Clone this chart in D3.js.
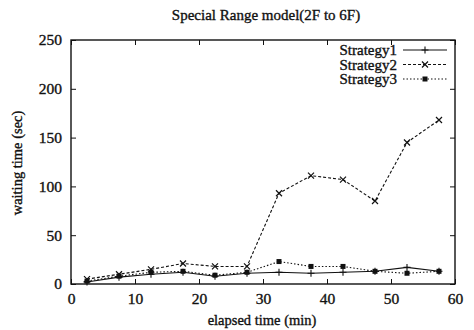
<!DOCTYPE html>
<html>
<head>
<meta charset="utf-8">
<script src="https://cdn.jsdelivr.net/npm/d3@7"></script>
<style>
  body { margin: 0; background: #fff; }
  text { font-family: "Liberation Serif", "DejaVu Serif", serif; fill: #111; stroke: #111; stroke-width: 0.35px; }
</style>
</head>
<body>
<svg id="chart" width="474" height="330"></svg>
<script>
// elapsed time (min) of each sample
const times = [2.5, 7.5, 12.5, 17.5, 22.5, 27.5, 32.5, 37.5, 42.5, 47.5, 52.5, 57.5];
// waiting time (sec)
const strategy1 = [2, 7, 10, 12, 8, 11, 12, 11, 12, 13, 17, 13];
const strategy2 = [5, 10, 15, 21, 18, 18, 93, 111, 107, 85, 145, 168];
const strategy3 = [3, 8, 12, 13, 9, 12, 23, 18, 18, 13, 11, 13];
const xTicks = [0, 10, 20, 30, 40, 50, 60];
const yTicks = [0, 50, 100, 150, 200, 250];

const series = [
  { name: "Strategy1", values: strategy1, dash: null, marker: "plus" },
  { name: "Strategy2", values: strategy2, dash: "3,2", marker: "cross" },
  { name: "Strategy3", values: strategy3, dash: "1.5,2", marker: "square" }
];

const svg = d3.select("#chart");
const margin = { top: 40, right: 19, bottom: 46, left: 71 };
const width = 474 - margin.left - margin.right;
const height = 330 - margin.top - margin.bottom;

const g = svg.append("g").attr("transform", `translate(${margin.left},${margin.top})`);

const x = d3.scaleLinear().domain([0, 60]).range([0, width]);
const y = d3.scaleLinear().domain([0, 250]).range([height, 0]);

// frame
g.append("rect")
  .attr("width", width).attr("height", height)
  .attr("fill", "none").attr("stroke", "#111").attr("stroke-width", 1.4);

// axes with inward ticks, mirrored on top/right
g.append("g").attr("transform", `translate(0,${height})`)
  .call(d3.axisBottom(x).tickValues(xTicks).tickSizeInner(-5).tickSizeOuter(0).tickPadding(9));
g.append("g")
  .call(d3.axisLeft(y).tickValues(yTicks).tickSizeInner(-5).tickSizeOuter(0).tickPadding(9));
g.append("g")
  .call(d3.axisTop(x).tickValues(xTicks).tickSizeInner(-5).tickSizeOuter(0).tickFormat(""));
g.append("g").attr("transform", `translate(${width},0)`)
  .call(d3.axisRight(y).tickValues(yTicks).tickSizeInner(-5).tickSizeOuter(0).tickFormat(""));

g.selectAll(".domain").remove();
g.selectAll(".tick line").attr("stroke", "#111");
g.selectAll(".tick text").style("font-size", "15.5px").attr("fill", "#111");

function drawMarker(sel, type) {
  if (type === "plus") {
    sel.append("path").attr("d", "M-3.5,0H3.5M0,-3.5V3.5").attr("stroke", "#111").attr("stroke-width", 1.1);
  } else if (type === "cross") {
    sel.append("path").attr("d", "M-3,-3L3,3M-3,3L3,-3").attr("stroke", "#111").attr("stroke-width", 1.2);
  } else {
    sel.append("rect").attr("x", -2.5).attr("y", -2.5).attr("width", 5).attr("height", 5).attr("fill", "#111");
  }
}

const line = d3.line().x((d, i) => x(times[i])).y(d => y(d));

series.forEach(s => {
  g.append("path")
    .datum(s.values)
    .attr("fill", "none")
    .attr("stroke", "#111")
    .attr("stroke-width", 1.1)
    .attr("stroke-dasharray", s.dash)
    .attr("d", line);

  g.selectAll(null)
    .data(s.values)
    .enter()
    .append("g")
    .attr("transform", (d, i) => `translate(${x(times[i])},${y(d)})`)
    .each(function() { drawMarker(d3.select(this), s.marker); });
});

// legend
const legend = g.append("g").attr("transform", `translate(${width - 52},10)`);
series.forEach((s, i) => {
  const row = legend.append("g").attr("transform", `translate(0,${i * 14.5})`);
  row.append("text").attr("x", -6).attr("y", 5).attr("text-anchor", "end")
    .style("font-size", "15px").text(s.name);
  row.append("line").attr("x1", 0).attr("x2", 44).attr("y1", 0).attr("y2", 0)
    .attr("stroke", "#111").attr("stroke-width", 1.1).attr("stroke-dasharray", s.dash);
  const m = row.append("g").attr("transform", "translate(22,0)");
  drawMarker(m, s.marker);
});

// title and axis labels
svg.append("text").attr("x", 266).attr("y", 20).attr("text-anchor", "middle")
  .style("font-size", "15px").text("Special Range model(2F to 6F)");
svg.append("text").attr("x", 262).attr("y", 325).attr("text-anchor", "middle")
  .style("font-size", "14.5px").text("elapsed time (min)");
svg.append("text").attr("transform", "translate(22,163) rotate(-90)").attr("text-anchor", "middle")
  .style("font-size", "14.5px").text("waiting time (sec)");
</script>
</body>
</html>
